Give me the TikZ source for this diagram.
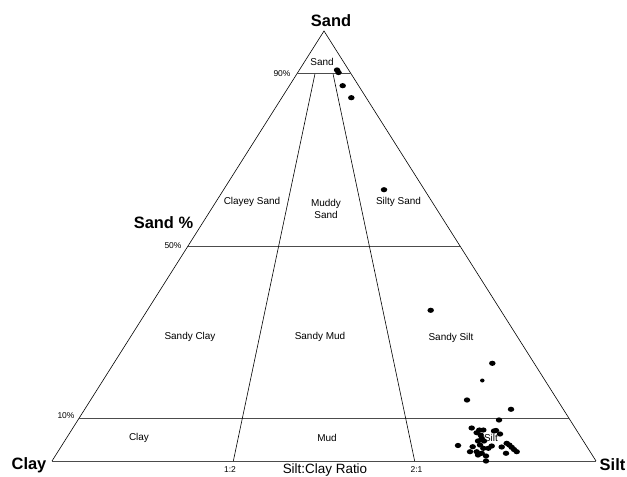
\documentclass[tikz,border=0pt]{standalone}
\usepackage{fontspec}
\setmainfont{Liberation Sans}
\usetikzlibrary{calc,shapes.geometric}
\begin{document}
\begin{tikzpicture}[x=1bp,y=-1bp,
  edge/.style={draw=black, line width=0.6bp},
  level/.style={draw=black!70, line width=1bp},
  reg/.style={font=\fontsize{10}{12}\selectfont, inner sep=0pt, align=center},
  tick/.style={font=\fontsize{8.5}{10}\selectfont, inner sep=0pt},
  big/.style={font=\bfseries\fontsize{16.5}{20}\selectfont, inner sep=0pt},
  axis/.style={font=\fontsize{13.5}{16}\selectfont, inner sep=0pt, anchor=base},
  dot/.style={ellipse, fill=black, minimum width=6.5bp, minimum height=5.2bp, inner sep=0pt},
  sdot/.style={ellipse, fill=black, minimum width=4.5bp, minimum height=4bp, inner sep=0pt}]
\useasboundingbox (0,0) rectangle (627,477);
% vertices
\coordinate (S) at (324,31);
\coordinate (C) at (52,461);
\coordinate (T) at (596,461);
% level points
\coordinate (L90) at ($(C)!0.9!(S)$);
\coordinate (R90) at ($(T)!0.9!(S)$);
\coordinate (L50) at ($(C)!0.5!(S)$);
\coordinate (R50) at ($(T)!0.5!(S)$);
\coordinate (L10) at ($(C)!0.1!(S)$);
\coordinate (R10) at ($(T)!0.1!(S)$);
% ratio points
\coordinate (B12) at ($(C)!1/3!(T)$);
\coordinate (B21) at ($(C)!2/3!(T)$);
\coordinate (U12) at ($(L90)!1/3!(R90)$);
\coordinate (U21) at ($(L90)!2/3!(R90)$);
% triangle
\draw[edge] (C) -- (S) -- (T);
\draw[level] (C) -- (T);
\draw[level] (L90) -- (R90);
\draw[level] (L50) -- (R50);
\draw[level] (L10) -- (R10);
\draw[edge] (B12) -- (U12);
\draw[edge] (B21) -- (U21);
% region labels
\node[reg] (rSand) at (322,61.5) {Sand};
\node[reg] (rCS) at (252,202) {Clayey Sand};
\node[reg] (rMS) at (326,209) {Muddy\\Sand};
\node[reg] (rSS) at (398.5,202) {Silty Sand};
\node[reg] (rSC) at (190,337) {Sandy Clay};
\node[reg] (rSM) at (320,337) {Sandy Mud};
\node[reg] (rSSi) at (451,337.5) {Sandy Silt};
\node[reg] (rC) at (139,438) {Clay};
\node[reg] (rM) at (327,438) {Mud};
% ticks
\node[tick] (t90) at (282,73.5) {90\%};
\node[tick] (t50) at (173,246) {50\%};
\node[tick] (t10) at (66,415.5) {10\%};
\node[tick] (t12) at (230,470) {1:2};
\node[tick] (t21) at (416.5,470) {2:1};
% big labels
\node[big] (lS) at (331,21) {Sand};
\node[big] (lC) at (29,465) {Clay};
\node[big] (lT) at (612.5,465) {Silt};
\node[big] (lP) at (163.5,223) {Sand \%};
\node[axis] (lR) at (325,473.5) {Silt:Clay Ratio};
% data points
\foreach \px/\py [count=\i] in {337/70,338.5/72.5,342.7/85.7,351.3/97.7,384/189.7,430.7/310.3,492.3/363.3,467/400,511/409.3,499/420,
  471.7/428,479.3/430,483.3/430,476.7/432.7,480.7/435,481.7/438.3,494/431,496/430.5,500/434,458/445.5,
  472.7/446.7,480/445,483.3/448.3,476.7/451.7,481.7/453.3,488.3/448.3,491.7/446,501.7/447,506.7/443.3,509.3/445,
  511.7/447.3,514/449.5,516.7/451.7,506/453.3,486/456,486/461,470/451.7,478/441,484/441,478/455}
  \node[dot] (p\i) at (\px,\py) {};
\node[sdot] (q1) at (482.3,380.5) {};
% Silt region label, printed over the points
\node[reg] (rSi) at (491,438) {Silt};
\end{tikzpicture}
\end{document}
